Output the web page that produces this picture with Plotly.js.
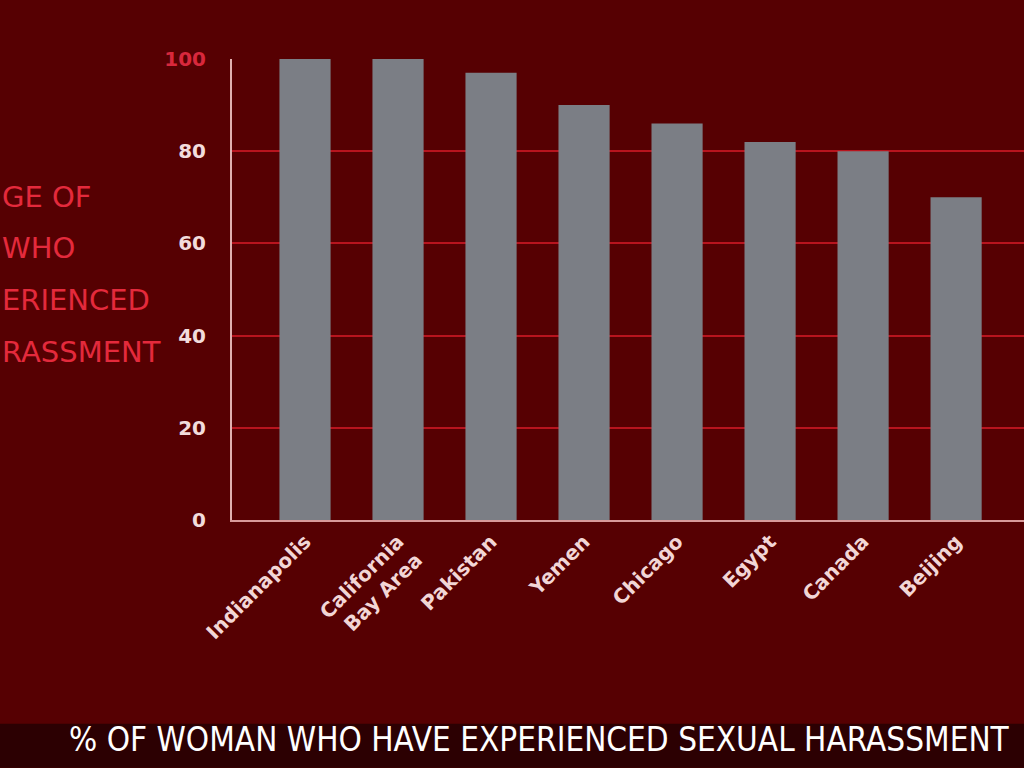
<!DOCTYPE html>
<html>
<head>
<meta charset="utf-8">
<script src="https://cdn.plot.ly/plotly-3.0.1.min.js"></script>
<style>
html,body{margin:0;padding:0;background:#560002;overflow:hidden;}
#chart{width:1024px;height:768px;}
</style>
</head>
<body>
<div id="chart"></div>
<script>
var categories = ["Indianapolis", "California<br>Bay Area", "Pakistan", "Yemen", "Chicago", "Egypt", "Canada", "Beijing"];
var values = [100, 100, 97, 90, 86, 82, 80, 70];
var yTickVals = [0, 20, 40, 60, 80, 100];
var yTickText = ["0", "20", "40", "60", "80", "<span style='color:#d8283c'>100</span>"];
var yTitleLines = ["GE OF", "WHO", "ERIENCED", "RASSMENT"];
var chartTitle = "% OF WOMAN WHO HAVE EXPERIENCED SEXUAL HARASSMENT";

var trace = {
  type: "bar",
  x: categories.map(function(c, i){ return i; }),
  y: values,
  marker: {color: "#7b7e85", line: {width: 0}},
  hoverinfo: "skip"
};

var W = 1024, H = 768, mL = 232, mT = 58.5, mB = 248;
var plotW = W - mL, plotH = H - mT - mB;
function px2paperX(px){ return (px - mL) / plotW; }
function px2paperY(py){ return (H - mB - py) / plotH; }

var titleYs = [197, 248, 300, 352];
var annotations = yTitleLines.map(function(t, i){
  return {
    text: t, xref: "paper", yref: "paper",
    x: px2paperX(0), y: px2paperY(titleYs[i]),
    xanchor: "left", yanchor: "middle", showarrow: false,
    font: {family: "'DejaVu Sans', sans-serif", size: 29, color: "#e42a3c"}
  };
});
annotations.push({
  text: chartTitle, xref: "paper", yref: "paper",
  x: px2paperX(539), y: px2paperY(740),
  xanchor: "center", yanchor: "middle", showarrow: false,
  font: {family: "'Liberation Sans Narrow', 'Arial Narrow', 'DejaVu Sans Condensed', sans-serif", size: 33, color: "#ffffff"}
});

var layout = {
  width: W, height: H,
  margin: {l: mL, r: 0, t: mT, b: mB, pad: 0},
  paper_bgcolor: "#560002",
  plot_bgcolor: "#560002",
  showlegend: false,
  bargap: 0.45,
  font: {family: "'DejaVu Sans', sans-serif", color: "#f2dada"},
  xaxis: {
    range: [-0.785, 7.73],
    tickvals: categories.map(function(c, i){ return i; }),
    ticktext: categories,
    tickangle: -45,
    tickfont: {size: 20, color: "#f2d6d6", family: "'DejaVu Sans', sans-serif", weight: "bold"},
    showgrid: false, zeroline: false,
    showline: true, linecolor: "#d89a9a", linewidth: 2,
    ticks: "", fixedrange: true
  },
  yaxis: {
    range: [0, 100],
    tickvals: yTickVals,
    ticktext: yTickText,
    tickfont: {size: 20, color: "#f2dcdc", family: "'DejaVu Sans', sans-serif", weight: "bold"},
    showgrid: true, gridcolor: "#b8141e", gridwidth: 2,
    zeroline: false,
    showline: true, linecolor: "#e0b0b0", linewidth: 2,
    ticks: "", ticklabelstandoff: 20, fixedrange: true
  },
  shapes: [{
    type: "rect", xref: "paper", yref: "paper",
    x0: px2paperX(0), x1: 1, y0: px2paperY(768), y1: px2paperY(724),
    fillcolor: "#2c0002", line: {width: 0}, layer: "below"
  }],
  annotations: annotations
};

Plotly.newPlot("chart", [trace], layout, {staticPlot: true, displayModeBar: false});
</script>
</body>
</html>
